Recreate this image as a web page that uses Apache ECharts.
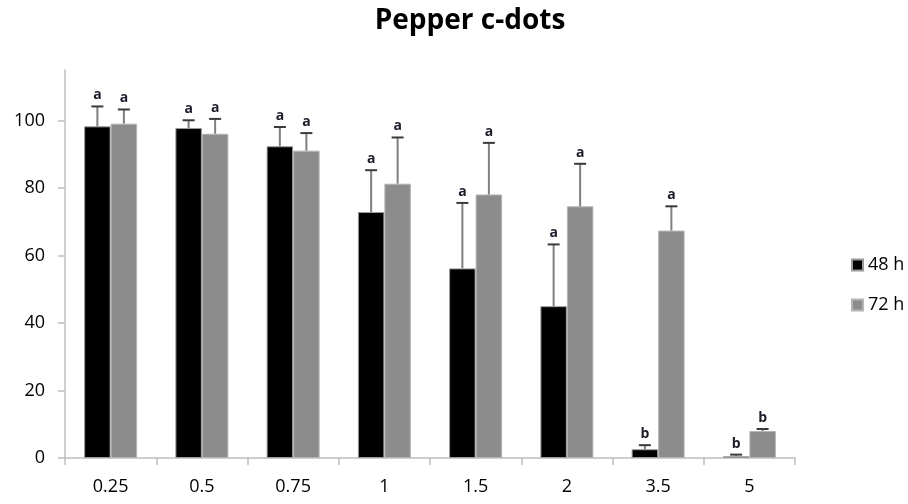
<!DOCTYPE html>
<html>
<head>
<meta charset="utf-8">
<script src="https://cdn.jsdelivr.net/npm/echarts@6/dist/echarts.min.js"></script>
<style>html,body{margin:0;padding:0;background:#fff;}#chart{width:908px;height:504px;}</style>
</head>
<body>
<div id="chart"></div>
<script>
const categories = ['0.25', '0.5', '0.75', '1', '1.5', '2', '3.5', '5'];
const h48 = [98.3, 97.8, 92.4, 72.9, 56.2, 45.0, 2.6, 0.5];
const h48err = [5.9, 2.3, 5.7, 12.4, 19.4, 18.3, 1.2, 0.5];
const h48letters = ['a', 'a', 'a', 'a', 'a', 'a', 'b', 'b'];
const h72 = [99.1, 96.1, 91.1, 81.3, 78.1, 74.6, 67.4, 8.0];
const h72err = [4.2, 4.4, 5.2, 13.7, 15.3, 12.6, 7.2, 0.6];
const h72letters = ['a', 'a', 'a', 'a', 'a', 'a', 'a', 'b'];
const yTicks = [0, 20, 40, 60, 80, 100];

const FONT = '"Open Sans", sans-serif';
const BAR_W = 26.5;

function errSeries(vals, errs, letters, offsetSign) {
  return {
    type: 'custom',
    silent: true,
    z: 5,
    data: vals.map((v, i) => [i, v, v + errs[i], letters[i]]),
    renderItem: function (params, api) {
      const idx = api.value(0);
      const base = api.coord([idx, api.value(1)]);
      const top = api.coord([idx, api.value(2)]);
      const x = base[0] + offsetSign * BAR_W / 2;
      return {
        type: 'group',
        children: [
          { type: 'line', shape: { x1: x, y1: base[1], x2: x, y2: top[1] }, style: { stroke: '#7f7f7f', lineWidth: 2 } },
          { type: 'line', shape: { x1: x - 6, y1: top[1], x2: x + 6, y2: top[1] }, style: { stroke: '#3a3a3a', lineWidth: 2 } },
          { type: 'text', x: x, y: top[1] - 4, style: { text: letters[idx], fill: '#1c1c2a', font: 'bold 14px ' + FONT, align: 'center', verticalAlign: 'bottom' } }
        ]
      };
    }
  };
}

const chart = echarts.init(document.getElementById('chart'), null, { renderer: 'canvas' });
chart.setOption({
  animation: false,
  backgroundColor: '#fff',
  title: {
    text: 'Pepper c-dots',
    left: 465, textAlign: 'center',
    top: 2,
    textStyle: { fontFamily: FONT, fontWeight: 'bold', fontSize: 28, color: '#000' }
  },
  legend: {
    orient: 'vertical',
    left: 851, top: 256,
    padding: 0,
    itemWidth: 11, itemHeight: 11, itemGap: 22,
    icon: 'rect',
    data: ['48 h', '72 h'],
    textStyle: { fontFamily: FONT, fontSize: 18, color: '#000' }
  },
  grid: { left: 65, right: 113, top: 70, bottom: 46, containLabel: false },
  xAxis: {
    type: 'category',
    data: categories,
    axisLine: { lineStyle: { color: '#bfbfbf', width: 1.5 } },
    axisTick: { show: true, length: 7, lineStyle: { color: '#bfbfbf', width: 1.5 } },
    axisLabel: { fontFamily: FONT, fontSize: 18, color: '#000', margin: 20 }
  },
  yAxis: {
    type: 'value',
    min: 0, max: 115,
    axisLine: { show: true, lineStyle: { color: '#bfbfbf', width: 1.5 } },
    axisTick: { show: true, length: 7, lineStyle: { color: '#bfbfbf', width: 1.5 }, customValues: yTicks },
    axisLabel: { fontFamily: FONT, fontSize: 18, color: '#000', margin: 20, customValues: yTicks },
    splitLine: { show: false }
  },
  series: [
    { name: '48 h', type: 'bar', data: h48, barWidth: BAR_W, barGap: '0%', itemStyle: { color: '#000', borderColor: '#9a9a9a', borderWidth: 1 } },
    { name: '72 h', type: 'bar', data: h72, barWidth: BAR_W, barGap: '0%', itemStyle: { color: '#8c8c8c', borderColor: '#b4b4b4', borderWidth: 1 } },
    errSeries(h48, h48err, h48letters, -1),
    errSeries(h72, h72err, h72letters, 1)
  ]
});
</script>
</body>
</html>
